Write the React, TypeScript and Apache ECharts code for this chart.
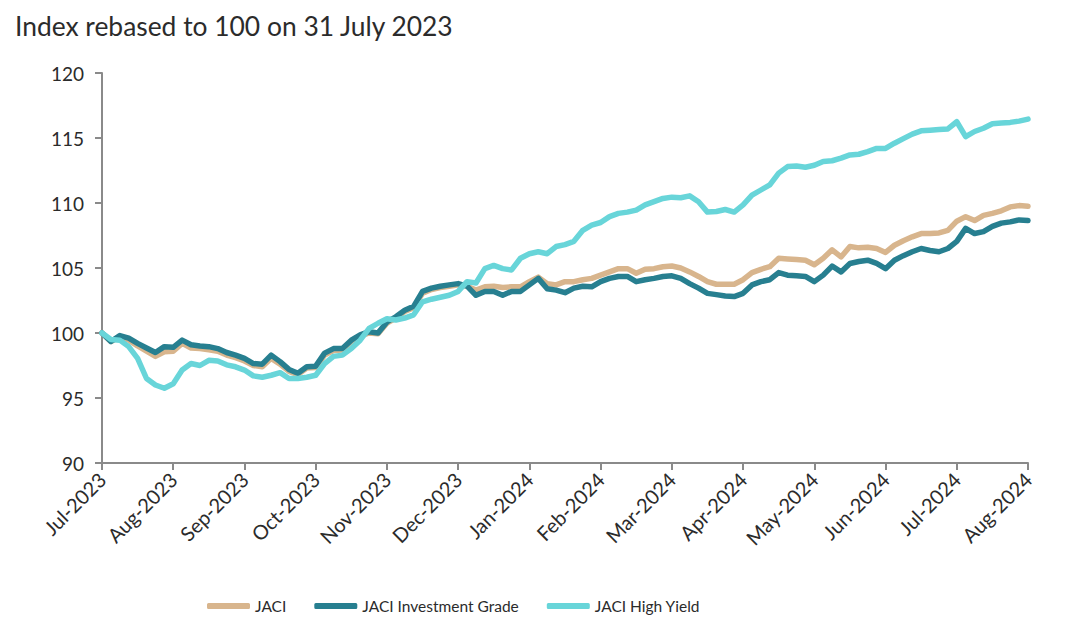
import React, { useEffect, useRef } from "react";
import * as echarts from "echarts";

const TITLE = "Index rebased to 100 on 31 July 2023";
const MONTH_LABELS = [
  "Jul-2023", "Aug-2023", "Sep-2023", "Oct-2023", "Nov-2023", "Dec-2023", "Jan-2024",
  "Feb-2024", "Mar-2024", "Apr-2024", "May-2024", "Jun-2024", "Jul-2024", "Aug-2024",
];
const POINTS_PER_MONTH = 8;
const Y_MIN = 90;
const Y_MAX = 120;
const Y_STEP = 5;
const SERIES_NAMES = ["JACI", "JACI Investment Grade", "JACI High Yield"];
const SERIES_COLORS = ["#D8B58D", "#277F90", "#68D5D9"];

const JACI = [
  100.0, 99.35, 99.7, 99.45, 99.0, 98.6, 98.2, 98.55, 98.6, 99.2,
  98.85, 98.8, 98.7, 98.6, 98.3, 98.1, 97.85, 97.5, 97.4, 98.05,
  97.6, 97.05, 96.8, 97.3, 97.35, 98.3, 98.65, 98.7, 99.35, 99.75,
  100.0, 99.95, 100.75, 101.15, 101.65, 101.95, 103.05, 103.35, 103.5, 103.6,
  103.7, 103.6, 103.3, 103.55, 103.6, 103.5, 103.55, 103.55, 103.95, 104.3,
  103.8, 103.7, 103.95, 103.95, 104.1, 104.2, 104.45, 104.7, 104.95, 104.95,
  104.6, 104.9, 104.95, 105.1, 105.15, 105.0, 104.7, 104.35, 103.95, 103.75,
  103.75, 103.75, 104.1, 104.65, 104.9, 105.1, 105.75, 105.7, 105.65, 105.6,
  105.25, 105.75, 106.4, 105.85, 106.65, 106.55, 106.6, 106.5, 106.2, 106.75,
  107.1, 107.4, 107.65, 107.65, 107.7, 107.9, 108.6, 108.95, 108.65, 109.05,
  109.2, 109.4, 109.7, 109.8, 109.75,
];

const JACI_IG = [
  100.0, 99.35, 99.8, 99.6, 99.2, 98.85, 98.5, 98.95, 98.9, 99.45,
  99.1, 99.0, 98.95, 98.8, 98.5, 98.3, 98.05, 97.65, 97.6, 98.3,
  97.8, 97.2, 96.9, 97.4, 97.45, 98.45, 98.8, 98.8, 99.45, 99.85,
  100.1, 100.0, 100.85, 101.25, 101.75, 102.05, 103.2, 103.45, 103.6, 103.7,
  103.8, 103.6, 102.9, 103.2, 103.2, 102.9, 103.2, 103.2, 103.7, 104.2,
  103.4, 103.3, 103.1, 103.45, 103.6, 103.55, 103.95, 104.2, 104.35, 104.35,
  103.95, 104.1, 104.2, 104.35, 104.4, 104.2, 103.8, 103.45, 103.05, 102.95,
  102.85, 102.8, 103.05, 103.7, 103.95, 104.1, 104.65, 104.45, 104.4, 104.35,
  103.95, 104.45, 105.15, 104.7, 105.35, 105.5, 105.6, 105.35, 104.95, 105.6,
  105.95, 106.25, 106.5, 106.35, 106.25, 106.5, 107.05, 108.05, 107.65, 107.8,
  108.2, 108.45, 108.55, 108.7, 108.65,
];

const JACI_HY = [
  100.0, 99.5, 99.45, 98.95, 98.05, 96.5, 96.0, 95.75, 96.1, 97.15,
  97.65, 97.5, 97.9, 97.85, 97.55, 97.4, 97.15, 96.7, 96.6, 96.75,
  96.95, 96.5, 96.5, 96.6, 96.75, 97.65, 98.2, 98.3, 98.8, 99.45,
  100.35, 100.75, 101.1, 101.0, 101.15, 101.4, 102.4, 102.6, 102.75, 102.9,
  103.2, 103.95, 103.85, 104.95, 105.2, 104.95, 104.85, 105.75, 106.1, 106.25,
  106.1, 106.65, 106.8, 107.05, 107.9, 108.3, 108.5, 108.95, 109.2, 109.3,
  109.45, 109.85, 110.1, 110.35, 110.45, 110.4, 110.55, 110.1, 109.3, 109.35,
  109.5, 109.3, 109.85, 110.6, 111.0, 111.4, 112.3, 112.8, 112.85, 112.75,
  112.9, 113.2, 113.25, 113.45, 113.7, 113.75, 113.95, 114.2, 114.2, 114.6,
  114.95, 115.3, 115.55, 115.6, 115.65, 115.7, 116.25, 115.1, 115.5, 115.75,
  116.1, 116.15, 116.2, 116.3, 116.45,
];

const FONT = "Lato";
const TEXT_COLOR = "#2b2b2b";
const AXIS_COLOR = "#8a8a8a";

export default function App() {
  const ref = useRef<HTMLDivElement>(null);

  useEffect(() => {
    document.body.style.margin = "0";
    if (!ref.current) return;
    const chart = echarts.init(ref.current, null, { renderer: "svg" });
    const allSeries = [JACI, JACI_IG, JACI_HY];
    const xMax = (MONTH_LABELS.length - 1) * POINTS_PER_MONTH;

    chart.setOption({
      animation: false,
      backgroundColor: "#ffffff",
      textStyle: { fontFamily: FONT },
      title: {
        text: TITLE,
        left: 10,
        top: 8,
        textStyle: { fontFamily: FONT, fontSize: 26.4, fontWeight: "normal", color: TEXT_COLOR },
      },
      grid: { left: 102, right: 37, top: 73, bottom: 165 },
      legend: {
        data: SERIES_NAMES,
        left: 202,
        top: 593,
        icon: "roundRect",
        itemWidth: 43,
        itemHeight: 6,
        itemGap: 28,
        textStyle: { fontFamily: FONT, fontSize: 15.5, color: TEXT_COLOR },
      },
      xAxis: {
        type: "value",
        min: 0,
        max: xMax,
        interval: POINTS_PER_MONTH,
        axisLine: { show: true, onZero: false, lineStyle: { color: AXIS_COLOR, width: 2 } },
        axisTick: { show: true, length: 7, lineStyle: { color: AXIS_COLOR, width: 2 } },
        splitLine: { show: false },
        axisLabel: {
          rotate: 45,
          margin: 13,
          fontFamily: FONT,
          fontSize: 20,
          color: TEXT_COLOR,
          formatter: (v: number) => MONTH_LABELS[Math.round(v / POINTS_PER_MONTH)] ?? "",
        },
      },
      yAxis: {
        type: "value",
        min: Y_MIN,
        max: Y_MAX,
        interval: Y_STEP,
        axisLine: { show: true, lineStyle: { color: AXIS_COLOR, width: 2 } },
        axisTick: { show: true, length: 7, lineStyle: { color: AXIS_COLOR, width: 2 } },
        splitLine: { show: false },
        axisLabel: { margin: 18, fontFamily: FONT, fontSize: 19, color: TEXT_COLOR },
      },
      series: allSeries.map((values, s) => ({
        name: SERIES_NAMES[s],
        type: "line",
        showSymbol: false,
        symbol: "none",
        color: SERIES_COLORS[s],
        lineStyle: { width: 5.5, color: SERIES_COLORS[s], join: "round", cap: "round" },
        data: values.map((v, i) => [i, v]),
      })),
    });

    return () => chart.dispose();
  }, []);

  return <div ref={ref} style={{ width: 1065, height: 628 }} />;
}
